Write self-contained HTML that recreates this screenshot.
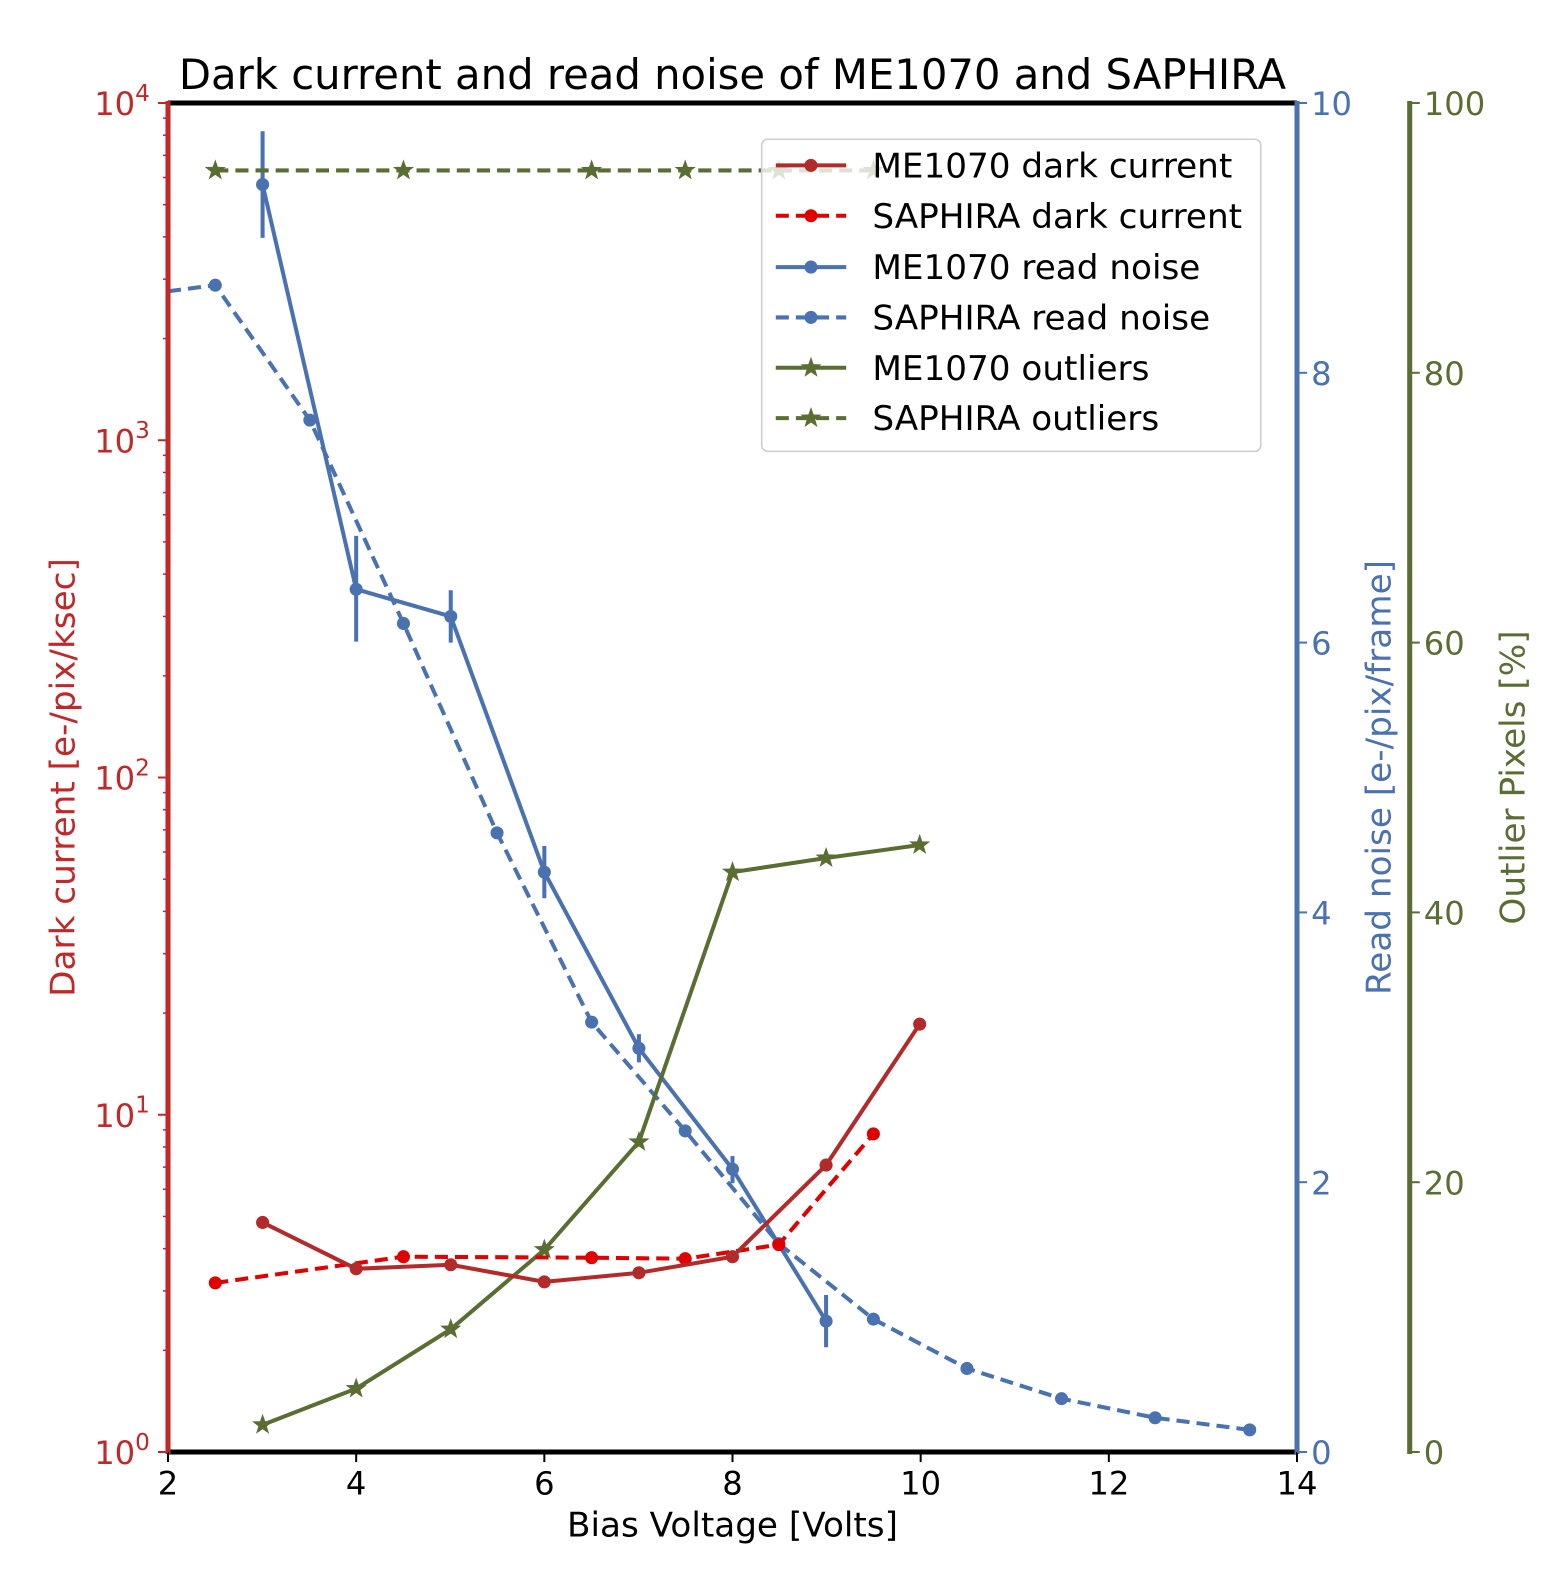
<!DOCTYPE html>
<html><head><meta charset="utf-8"><style>
html,body{margin:0;padding:0;background:#fff;overflow:hidden;width:1567px;height:1579px}
svg{display:block}
text{font-family:"DejaVu Sans","Liberation Sans",sans-serif}
</style></head><body>
<svg width="1567" height="1579" viewBox="0 0 1567 1579" xmlns="http://www.w3.org/2000/svg">
<rect width="1567" height="1579" fill="#fff"/>
<defs>
<path id="st" d="M0,-11 L2.6,-3.6 L10.5,-3.4 L4.2,1.4 L6.5,8.9 L0,4.4 L-6.5,8.9 L-4.2,1.4 L-10.5,-3.4 L-2.6,-3.6 Z"/>
</defs>
<g transform="matrix(1.00624,0,0,1.00672,0.964,0.315)">
<text x="727" y="88" font-size="41.5" text-anchor="middle">Dark current and read noise of ME1070 and SAPHIRA</text>

<polyline fill="none" stroke="#4a72b0" stroke-width="4" stroke-dasharray="13,7" points="166,289 213,283 307,417 400,619 493,827 587,1015 680,1123 773,1235 867,1310 960,1359 1054,1389 1147,1408 1241,1420"/>
<g fill="#4a72b0"><circle cx="213" cy="283" r="6.5"/><circle cx="307" cy="417" r="6.5"/><circle cx="400" cy="619" r="6.5"/><circle cx="493" cy="827" r="6.5"/><circle cx="587" cy="1015" r="6.5"/><circle cx="680" cy="1123" r="6.5"/><circle cx="773" cy="1235" r="6.5"/><circle cx="867" cy="1310" r="6.5"/><circle cx="960" cy="1359" r="6.5"/><circle cx="1054" cy="1389" r="6.5"/><circle cx="1147" cy="1408" r="6.5"/><circle cx="1241" cy="1420" r="6.5"/></g>
<polyline fill="none" stroke="#4a72b0" stroke-width="4" points="260,183 353,585 447,612 540,866 634,1041 727,1161 820,1312"/>
<g stroke="#4a72b0" stroke-width="4"><line x1="260" y1="130" x2="260" y2="236"/><line x1="353" y1="532" x2="353" y2="637"/><line x1="447" y1="586" x2="447" y2="638"/><line x1="540" y1="840" x2="540" y2="892"/><line x1="634" y1="1027" x2="634" y2="1055"/><line x1="727" y1="1148" x2="727" y2="1175"/><line x1="820" y1="1286" x2="820" y2="1338"/></g>
<g fill="#4a72b0"><circle cx="260" cy="183" r="6.5"/><circle cx="353" cy="585" r="6.5"/><circle cx="447" cy="612" r="6.5"/><circle cx="540" cy="866" r="6.5"/><circle cx="634" cy="1041" r="6.5"/><circle cx="727" cy="1161" r="6.5"/><circle cx="820" cy="1312" r="6.5"/></g>
<polyline fill="none" stroke="#5a6e34" stroke-width="4" stroke-dasharray="13,7" points="213,169 867,169"/>
<g fill="#5a6e34"><use href="#st" x="213" y="169"/><use href="#st" x="400" y="169"/><use href="#st" x="587" y="169"/><use href="#st" x="680" y="169"/><use href="#st" x="773" y="169"/><use href="#st" x="867" y="169"/></g>
<polyline fill="none" stroke="#5a6e34" stroke-width="4" points="260,1415 353,1379 447,1320 540,1241 634,1134 727,866 820,852 913,839"/>
<g fill="#5a6e34"><use href="#st" x="260" y="1415"/><use href="#st" x="353" y="1379"/><use href="#st" x="447" y="1320"/><use href="#st" x="540" y="1241"/><use href="#st" x="634" y="1134"/><use href="#st" x="727" y="866"/><use href="#st" x="820" y="852"/><use href="#st" x="913" y="839"/></g>
<polyline fill="none" stroke="#e00000" stroke-width="4" stroke-dasharray="13,7" points="213,1274 400,1248 587,1249 680,1250 727,1243 773,1236 867,1126"/>
<g fill="#e00000"><circle cx="213" cy="1274" r="6.5"/><circle cx="400" cy="1248" r="6.5"/><circle cx="587" cy="1249" r="6.5"/><circle cx="680" cy="1250" r="6.5"/><circle cx="773" cy="1236" r="6.5"/><circle cx="867" cy="1126" r="6.5"/></g>
<polyline fill="none" stroke="#b22a2a" stroke-width="4" points="260,1214 353,1260 447,1256 540,1273 634,1264 727,1248 820,1157 913,1017"/>
<g fill="#b22a2a"><circle cx="260" cy="1214" r="6.5"/><circle cx="353" cy="1260" r="6.5"/><circle cx="447" cy="1256" r="6.5"/><circle cx="540" cy="1273" r="6.5"/><circle cx="634" cy="1264" r="6.5"/><circle cx="727" cy="1248" r="6.5"/><circle cx="820" cy="1157" r="6.5"/><circle cx="913" cy="1017" r="6.5"/></g>

<rect x="756" y="138" width="496" height="310" rx="6" fill="#fff" fill-opacity="0.8" stroke="#ccc" stroke-width="1.5"/>
<g font-size="34">
<line x1="770" y1="164" x2="840" y2="164" stroke="#b22a2a" stroke-width="4"/><circle cx="805" cy="164" r="6.5" fill="#b22a2a"/><text x="866" y="176">ME1070 dark current</text>
<line x1="770" y1="214" x2="840" y2="214" stroke="#e00000" stroke-width="4" stroke-dasharray="13,7"/><circle cx="805" cy="214" r="6.5" fill="#e00000"/><text x="866" y="226">SAPHIRA dark current</text>
<line x1="770" y1="265" x2="840" y2="265" stroke="#4a72b0" stroke-width="4"/><circle cx="805" cy="265" r="6.5" fill="#4a72b0"/><text x="866" y="277">ME1070 read noise</text>
<line x1="770" y1="315" x2="840" y2="315" stroke="#4a72b0" stroke-width="4" stroke-dasharray="13,7"/><circle cx="805" cy="315" r="6.5" fill="#4a72b0"/><text x="866" y="327">SAPHIRA read noise</text>
<line x1="770" y1="365" x2="840" y2="365" stroke="#5a6e34" stroke-width="4"/><use href="#st" x="805" y="365" fill="#5a6e34"/><text x="866" y="377">ME1070 outliers</text>
<line x1="770" y1="415" x2="840" y2="415" stroke="#5a6e34" stroke-width="4" stroke-dasharray="13,7"/><use href="#st" x="805" y="415" fill="#5a6e34"/><text x="866" y="427">SAPHIRA outliers</text>
</g>

<line x1="166" y1="102" x2="1288" y2="102" stroke="#000" stroke-width="5"/>
<line x1="166" y1="1442" x2="1288" y2="1442" stroke="#000" stroke-width="5"/>
<line x1="166" y1="100" x2="166" y2="1444" stroke="#c0282a" stroke-width="5"/>
<line x1="1288" y1="100" x2="1288" y2="1444" stroke="#4a72b0" stroke-width="5"/>
<line x1="1400" y1="100" x2="1400" y2="1444" stroke="#5a6e34" stroke-width="5"/>

<g stroke="#000" stroke-width="2"><line x1="166" y1="1442" x2="166" y2="1452"/><line x1="353" y1="1442" x2="353" y2="1452"/><line x1="540" y1="1442" x2="540" y2="1452"/><line x1="727" y1="1442" x2="727" y2="1452"/><line x1="914" y1="1442" x2="914" y2="1452"/><line x1="1101" y1="1442" x2="1101" y2="1452"/><line x1="1288" y1="1442" x2="1288" y2="1452"/></g>
<g font-size="32" text-anchor="middle"><text x="166" y="1484">2</text><text x="353" y="1484">4</text><text x="540" y="1484">6</text><text x="727" y="1484">8</text><text x="914" y="1484">10</text><text x="1101" y="1484">12</text><text x="1288" y="1484">14</text></g>
<text x="727" y="1526" font-size="34" text-anchor="middle">Bias Voltage [Volts]</text>

<g stroke="#c0282a" stroke-width="2">
<line x1="156" y1="102" x2="166" y2="102"/><line x1="156" y1="437" x2="166" y2="437"/><line x1="156" y1="772" x2="166" y2="772"/><line x1="156" y1="1107" x2="166" y2="1107"/><line x1="156" y1="1442" x2="166" y2="1442"/>
</g>
<g stroke="#c0282a" stroke-width="1.5" id="minor">
<line x1="161" y1="1341" x2="166" y2="1341"/><line x1="161" y1="1282" x2="166" y2="1282"/><line x1="161" y1="1240" x2="166" y2="1240"/><line x1="161" y1="1208" x2="166" y2="1208"/><line x1="161" y1="1181" x2="166" y2="1181"/><line x1="161" y1="1159" x2="166" y2="1159"/><line x1="161" y1="1139" x2="166" y2="1139"/><line x1="161" y1="1122" x2="166" y2="1122"/>
</g>
<use href="#minor" y="-335"/><use href="#minor" y="-670"/><use href="#minor" y="-1005"/>
<g font-size="32" fill="#c0282a" text-anchor="end">
<text x="148" y="114">10<tspan font-size="23" dy="-14">4</tspan></text>
<text x="148" y="449">10<tspan font-size="23" dy="-14">3</tspan></text>
<text x="148" y="784">10<tspan font-size="23" dy="-14">2</tspan></text>
<text x="148" y="1119">10<tspan font-size="23" dy="-14">1</tspan></text>
<text x="148" y="1454">10<tspan font-size="23" dy="-14">0</tspan></text>
</g>
<text transform="translate(73,772) rotate(-90)" font-size="34" fill="#c0282a" text-anchor="middle">Dark current [e-/pix/ksec]</text>

<g stroke="#4a72b0" stroke-width="2"><line x1="1288" y1="102" x2="1298" y2="102"/><line x1="1288" y1="370" x2="1298" y2="370"/><line x1="1288" y1="638" x2="1298" y2="638"/><line x1="1288" y1="906" x2="1298" y2="906"/><line x1="1288" y1="1174" x2="1298" y2="1174"/><line x1="1288" y1="1442" x2="1298" y2="1442"/></g>
<g font-size="32" fill="#4a72b0"><text x="1302" y="114">10</text><text x="1302" y="382">8</text><text x="1302" y="650">6</text><text x="1302" y="918">4</text><text x="1302" y="1186">2</text><text x="1302" y="1454">0</text></g>
<text transform="translate(1381,772) rotate(-90)" font-size="34" fill="#4a72b0" text-anchor="middle">Read noise [e-/pix/frame]</text>

<g stroke="#5a6e34" stroke-width="2"><line x1="1400" y1="102" x2="1410" y2="102"/><line x1="1400" y1="370" x2="1410" y2="370"/><line x1="1400" y1="638" x2="1410" y2="638"/><line x1="1400" y1="906" x2="1410" y2="906"/><line x1="1400" y1="1174" x2="1410" y2="1174"/><line x1="1400" y1="1442" x2="1410" y2="1442"/></g>
<g font-size="32" fill="#5a6e34"><text x="1414" y="114">100</text><text x="1414" y="382">80</text><text x="1414" y="650">60</text><text x="1414" y="918">40</text><text x="1414" y="1186">20</text><text x="1414" y="1454">0</text></g>
<text transform="translate(1514,772) rotate(-90)" font-size="34" fill="#5a6e34" text-anchor="middle">Outlier Pixels [%]</text>
</g>
</svg>
</body></html>
